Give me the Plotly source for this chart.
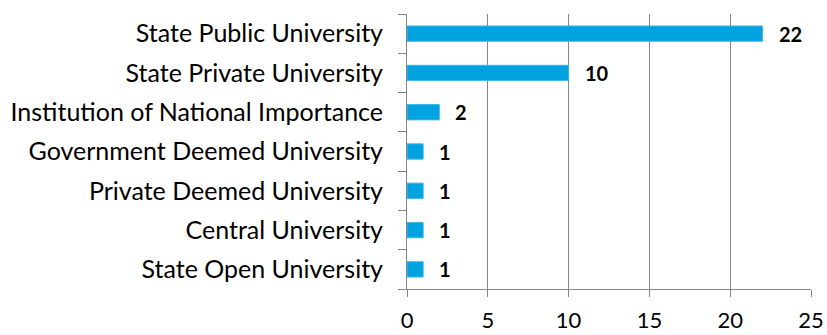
import plotly.graph_objects as go

categories = ["State Public University", "State Private University", "Institution of National Importance",
              "Government Deemed University", "Private Deemed University", "Central University",
              "State Open University"]
values = [22, 10, 2, 1, 1, 1, 1]
x_ticks = [0, 5, 10, 15, 20, 25]

cats = categories[::-1]
vals = values[::-1]

FONT = "Lato"
GRID = "#868686"

fig = go.Figure(go.Bar(
    x=vals, y=cats, orientation="h",
    marker=dict(color="#00A2DF", line=dict(color="#3FB8E8", width=1)),
    width=0.39,
    cliponaxis=False,
))

for c, v in zip(cats, vals):
    fig.add_annotation(x=v, y=c, text=f"<b>{v}</b>", showarrow=False, xanchor="left",
                       xshift=14, font=dict(family=FONT, size=20, color="#000000"))

fig.update_layout(
    width=827, height=335,
    margin=dict(l=407, r=16, t=14, b=46, autoexpand=False),
    paper_bgcolor="white", plot_bgcolor="white",
    showlegend=False,
    font=dict(family=FONT, size=24, color="#000000"),
)
fig.update_xaxes(range=[0, 25], tickvals=x_ticks, showgrid=True, gridcolor=GRID, gridwidth=1,
                 zeroline=False, showline=True, linecolor=GRID, linewidth=1, automargin=False,
                 ticks="outside", ticklen=7, tickcolor=GRID, ticklabelstandoff=5,
                 tickfont=dict(family=FONT, size=22, color="#000000"))
fig.update_yaxes(showline=True, linecolor=GRID, linewidth=1, ticks="outside", ticklen=8,
                 tickcolor=GRID, tickson="boundaries", ticklabelstandoff=18, automargin=False,
                 tickfont=dict(family=FONT, size=25, color="#000000"))

fig.write_html("out.html", config={"displayModeBar": False},
               post_script="document.body.style.margin='0';document.body.style.overflow='hidden';")
